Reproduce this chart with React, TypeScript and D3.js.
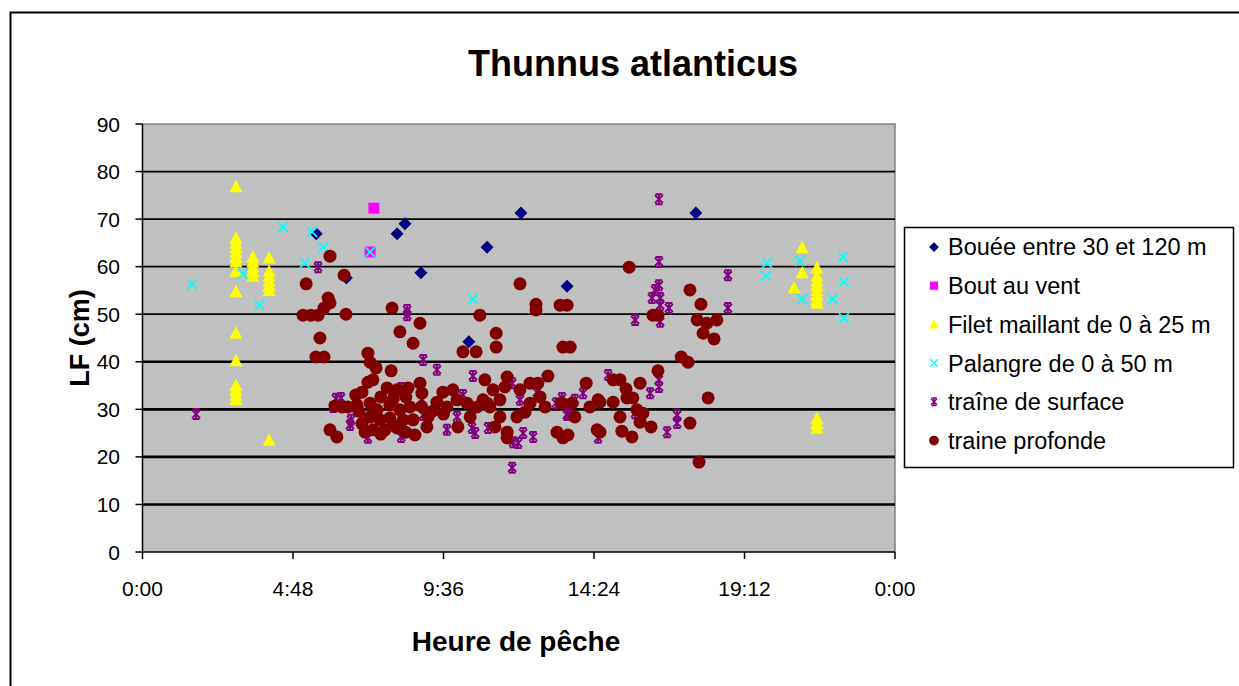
import React, { useEffect, useRef } from 'react';
import * as d3 from 'd3';

// [heure (h décimales), LF (cm)]
const bouee: [number, number][] = [
  [5.54, 66.9], [6.5, 57.6], [8.12, 66.9], [8.37, 69.0], [8.88, 58.7],
  [10.41, 44.2], [10.99, 64.1], [12.07, 71.3], [13.54, 55.9], [17.65, 71.3],
];

const boutAuVent: [number, number][] = [
  [7.38, 72.3], [7.26, 63.1],
];

const filet: [number, number][] = [
  [2.98, 76.8], [2.98, 66.0], [2.98, 65.0], [2.98, 64.0], [2.98, 63.0], [2.98, 62.0],
  [2.98, 61.0], [2.98, 59.0], [2.98, 54.7], [2.98, 46.0], [2.98, 40.2], [2.98, 35.0],
  [2.98, 34.0], [2.98, 33.0], [2.98, 32.0],
  [3.52, 62.0], [3.52, 61.0], [3.52, 60.0], [3.52, 59.0], [3.52, 58.0],
  [4.04, 61.8], [4.04, 59.0], [4.04, 58.0], [4.04, 57.0], [4.04, 56.0], [4.04, 55.0],
  [4.04, 23.5],
  [21.04, 64.0], [21.04, 58.7], [20.78, 55.5],
  [21.51, 59.7], [21.51, 58.0], [21.51, 57.0], [21.51, 56.0], [21.51, 55.0],
  [21.51, 54.0], [21.51, 53.0], [21.51, 52.3],
  [21.51, 28.0], [21.51, 27.0], [21.51, 26.0],
];

const palangre: [number, number][] = [
  [1.58, 56.3], [4.48, 68.3], [5.41, 67.3], [5.76, 64.1], [5.18, 60.8], [3.2, 58.5],
  [3.72, 51.9], [7.26, 63.1], [10.54, 53.2],
  [19.92, 60.8], [19.89, 58.0], [20.97, 61.2], [21.04, 53.2], [22.34, 62.0],
  [22.37, 56.8], [22.02, 53.2], [22.37, 49.2],
];

const traineSurface: [number, number][] = [
  [1.71, 29.0], [5.6, 59.9], [8.44, 50.9], [8.44, 49.8], [6.17, 32.2], [6.08, 30.5],
  [6.33, 32.4], [6.65, 27.8], [6.62, 26.7], [6.97, 28.2], [7.19, 24.0], [8.25, 24.2],
  [8.25, 34.5], [8.95, 40.4], [9.39, 38.3], [8.91, 32.0], [8.95, 28.8], [9.71, 25.7],
  [10.03, 28.4], [10.22, 33.0], [10.51, 26.1], [10.61, 25.0], [10.54, 37.0], [11.02, 26.1],
  [11.79, 35.5], [12.04, 32.0], [11.82, 23.1], [11.98, 22.9], [12.14, 25.0], [12.46, 24.2],
  [11.79, 17.7], [12.58, 33.6], [13.19, 31.3], [13.38, 32.4], [13.57, 29.2], [13.79, 32.0],
  [14.05, 33.4], [14.53, 24.0], [14.85, 37.2], [15.71, 29.2], [15.71, 48.8], [16.19, 33.4],
  [16.47, 36.2], [16.47, 34.7], [16.73, 25.2], [17.05, 28.8], [17.05, 27.1], [16.47, 74.2],
  [16.47, 61.0], [16.47, 56.1], [16.35, 55.1], [16.25, 53.4], [16.51, 53.4], [16.51, 51.9],
  [16.79, 51.3], [16.51, 48.4], [18.67, 58.2], [18.67, 51.3], [13.54, 28.8],
];

const traineProfonde: [number, number][] = [
  [5.98, 62.2], [5.22, 56.4], [6.43, 58.2], [5.92, 53.4], [5.12, 49.8], [5.37, 49.8],
  [5.6, 49.8], [5.79, 51.3], [5.98, 52.4], [6.49, 50.0], [5.66, 45.0], [7.96, 51.3],
  [8.85, 48.1], [8.21, 46.3], [8.63, 43.9], [5.53, 41.0], [5.79, 41.0], [7.19, 41.8],
  [7.26, 39.9], [7.45, 38.7], [7.93, 38.1], [10.76, 49.8], [10.22, 42.1], [10.64, 42.1],
  [10.92, 36.2],
  [7.19, 35.7], [7.35, 36.2], [7.0, 33.6], [7.8, 34.5], [8.12, 34.1], [8.47, 34.5],
  [8.85, 35.5], [8.91, 33.4], [6.55, 30.5], [6.84, 30.9], [7.26, 31.3], [7.48, 29.9],
  [7.89, 30.9], [8.21, 29.9], [8.53, 30.5], [7.26, 28.4], [7.58, 27.8], [7.89, 28.2],
  [8.31, 27.8], [8.63, 27.8], [7.35, 25.7], [7.73, 25.7], [8.12, 26.1], [8.69, 24.6],
  [9.07, 26.3], [9.11, 28.4], [6.14, 30.7], [6.36, 30.5], [5.98, 25.7], [6.2, 24.2],
  [7.1, 25.2], [9.58, 33.6], [9.9, 34.1], [9.39, 31.5], [9.71, 30.5], [10.03, 32.0],
  [10.35, 31.3], [10.67, 30.5], [10.99, 31.3], [10.06, 26.3], [10.45, 28.4],
  [6.8, 33.0], [7.6, 32.6], [8.0, 32.2], [8.4, 32.6], [7.0, 27.0], [8.0, 26.6],
  [8.9, 30.6], [9.25, 29.6], [7.6, 24.8], [8.4, 25.2], [6.9, 29.6], [9.6, 29.0],
  [12.55, 52.1], [12.55, 50.9], [13.32, 51.9], [13.54, 51.9], [11.28, 46.0], [11.28, 43.1],
  [13.41, 43.1], [13.64, 43.1], [16.28, 49.8], [16.44, 49.8], [15.52, 59.9], [17.46, 55.1],
  [17.81, 52.1], [17.69, 48.8], [18.0, 48.1], [18.32, 48.8], [17.88, 46.0], [18.23, 44.8],
  [17.18, 41.0], [17.4, 39.9], [16.44, 38.1], [15.01, 36.2], [15.23, 36.2], [15.87, 35.5],
  [15.42, 34.3], [15.45, 32.4], [15.64, 32.4], [14.59, 31.5], [15.01, 31.5], [18.04, 32.4],
  [15.23, 28.4], [15.96, 29.2], [15.87, 27.3], [15.29, 25.4], [15.61, 24.2], [16.22, 26.3],
  [14.59, 25.2], [17.46, 27.1], [17.75, 18.9], [12.04, 56.4],
  [11.63, 36.8], [11.18, 34.1], [10.86, 32.0], [11.08, 30.5], [11.4, 32.0], [11.56, 34.7],
  [12.04, 34.1], [12.36, 35.5], [12.61, 35.5], [12.93, 37.0], [12.68, 32.6], [12.84, 30.5],
  [12.36, 31.3], [12.2, 29.4], [11.94, 28.4], [11.4, 28.4], [11.24, 26.3], [11.63, 25.2],
  [11.63, 24.0], [13.38, 31.3], [13.7, 31.3], [13.22, 25.2], [13.57, 24.6], [13.41, 24.0],
  [13.79, 28.4], [14.15, 35.5], [14.27, 30.5], [14.53, 32.0], [14.5, 25.7], [15.77, 29.9],
];

const seriesNames = [
  'Bouée entre 30 et 120 m',
  'Bout au vent',
  'Filet maillant de 0 à 25 m',
  'Palangre de 0 à 50 m',
  'traîne de surface',
  'traine profonde',
];

const xTickValues = [0, 4.8, 9.6, 14.4, 19.2, 24];
const xTickLabels = ['0:00', '4:48', '9:36', '14:24', '19:12', '0:00'];
const yTickValues = [0, 10, 20, 30, 40, 50, 60, 70, 80, 90];

const FONT = '"Liberation Sans", Arial, sans-serif';

type Marker = 'diamond' | 'square' | 'triangle' | 'x' | 'star' | 'circle';

const drawMarker = (g: d3.Selection<SVGGElement, unknown, null, undefined>, kind: Marker) => {
  if (kind === 'diamond') {
    g.append('path').attr('d', 'M0,-6.5L6.5,0L0,6.5L-6.5,0Z').attr('fill', '#000080');
  } else if (kind === 'square') {
    g.append('rect').attr('x', -5.5).attr('y', -5.5).attr('width', 11).attr('height', 11).attr('fill', '#ff00ff');
  } else if (kind === 'triangle') {
    g.append('path').attr('d', 'M0,-7L6.5,5.5L-6.5,5.5Z').attr('fill', '#ffff00');
  } else if (kind === 'x') {
    g.append('path').attr('d', 'M-5,-5L5,5M-5,5L5,-5')
      .attr('stroke', '#00ffff').attr('stroke-width', 1.8).attr('fill', 'none');
  } else if (kind === 'star') {
    g.append('path').attr('d', 'M-4,-4L4,4M-4,4L4,-4M0,-5L0,5M-3.5,-5L3.5,-5M-3.5,5L3.5,5')
      .attr('stroke', '#800080').attr('stroke-width', 2).attr('fill', 'none');
  } else {
    g.append('circle').attr('r', 6.5).attr('fill', '#800000');
  }
};

const App: React.FC = () => {
  const svgRef = useRef<SVGSVGElement>(null);

  useEffect(() => {
    if (!svgRef.current) return;
    const width = 1239;
    const height = 686;
    const plot = { left: 142.5, right: 895, top: 124, bottom: 552 };

    const svg = d3.select(svgRef.current);
    svg.selectAll('*').remove();

    svg.append('rect').attr('width', width).attr('height', height).attr('fill', '#fff');
    svg.append('rect')
      .attr('x', 10.5).attr('y', 12.5).attr('width', 1240).attr('height', 700)
      .attr('fill', 'none').attr('stroke', '#000').attr('stroke-width', 2);

    const x = d3.scaleLinear().domain([0, 24]).range([plot.left, plot.right]);
    const y = d3.scaleLinear().domain([0, 90]).range([plot.bottom, plot.top]);

    // zone de tracé
    svg.append('rect')
      .attr('x', plot.left).attr('y', plot.top)
      .attr('width', plot.right - plot.left).attr('height', plot.bottom - plot.top)
      .attr('fill', '#c0c0c0');
    svg.append('path')
      .attr('d', `M${plot.left},${plot.top}H${plot.right}V${plot.bottom}`)
      .attr('fill', 'none').attr('stroke', '#808080').attr('stroke-width', 1.5);

    // quadrillage
    svg.append('g').selectAll('line')
      .data(yTickValues.filter(v => v > 0 && v < 90))
      .join('line')
      .attr('x1', plot.left).attr('x2', plot.right)
      .attr('y1', d => y(d)).attr('y2', d => y(d))
      .attr('stroke', '#000')
      .attr('stroke-width', d => d <= 40 ? 2.6 : 1.8);

    // axe Y
    const yAxis = svg.append('g');
    yAxis.append('line')
      .attr('x1', plot.left).attr('x2', plot.left).attr('y1', plot.top).attr('y2', plot.bottom)
      .attr('stroke', '#000').attr('stroke-width', 1.5);
    yAxis.selectAll('line.tick').data(yTickValues).join('line')
      .attr('class', 'tick')
      .attr('x1', plot.left - 7).attr('x2', plot.left)
      .attr('y1', d => y(d)).attr('y2', d => y(d))
      .attr('stroke', '#000').attr('stroke-width', 1.5);
    yAxis.selectAll('text').data(yTickValues).join('text')
      .attr('x', 120).attr('y', d => y(d)).attr('dy', '0.36em')
      .attr('text-anchor', 'end')
      .attr('font-family', FONT).attr('font-size', 21)
      .text(d => String(d));

    // axe X
    const xAxis = svg.append('g');
    xAxis.append('line')
      .attr('x1', plot.left).attr('x2', plot.right).attr('y1', plot.bottom).attr('y2', plot.bottom)
      .attr('stroke', '#000').attr('stroke-width', 1.5);
    xAxis.selectAll('line.tick').data(xTickValues).join('line')
      .attr('class', 'tick')
      .attr('x1', d => x(d)).attr('x2', d => x(d))
      .attr('y1', plot.bottom).attr('y2', plot.bottom + 7)
      .attr('stroke', '#000').attr('stroke-width', 1.5);
    xAxis.selectAll('text').data(xTickValues).join('text')
      .attr('x', d => x(d)).attr('y', 596)
      .attr('text-anchor', 'middle')
      .attr('font-family', FONT).attr('font-size', 21)
      .text((_, i) => xTickLabels[i]);

    // titres
    svg.append('text')
      .attr('x', 633).attr('y', 76).attr('text-anchor', 'middle')
      .attr('font-family', FONT).attr('font-weight', 'bold').attr('font-size', 36)
      .text('Thunnus atlanticus');
    svg.append('text')
      .attr('x', 516).attr('y', 651).attr('text-anchor', 'middle')
      .attr('font-family', FONT).attr('font-weight', 'bold').attr('font-size', 28)
      .text('Heure de pêche');
    svg.append('text')
      .attr('transform', 'translate(89,338) rotate(-90)')
      .attr('text-anchor', 'middle')
      .attr('font-family', FONT).attr('font-weight', 'bold').attr('font-size', 27)
      .text('LF (cm)');

    // points
    const series: { data: [number, number][]; marker: Marker }[] = [
      { data: bouee, marker: 'diamond' },
      { data: boutAuVent, marker: 'square' },
      { data: filet, marker: 'triangle' },
      { data: palangre, marker: 'x' },
      { data: traineSurface, marker: 'star' },
      { data: traineProfonde, marker: 'circle' },
    ];

    series.forEach(s => {
      const layer = svg.append('g');
      s.data.forEach(([h, lf]) => {
        const g = layer.append('g').attr('transform', `translate(${x(h)},${y(lf)})`);
        drawMarker(g, s.marker);
      });
    });

    // légende
    const legend = svg.append('g');
    legend.append('rect')
      .attr('x', 904.5).attr('y', 227.5).attr('width', 329).attr('height', 240)
      .attr('fill', '#fff').attr('stroke', '#000').attr('stroke-width', 1.5);
    seriesNames.forEach((name, i) => {
      const cy = 247 + i * 38.7;
      const g = legend.append('g').attr('transform', `translate(934,${cy}) scale(0.75)`);
      drawMarker(g, series[i].marker);
      legend.append('text')
        .attr('x', 948).attr('y', cy).attr('dy', '0.36em')
        .attr('font-family', FONT).attr('font-size', 23.5)
        .text(name);
    });
  }, []);

  return (
    <svg
      ref={svgRef}
      width={1239}
      height={686}
      style={{ position: 'absolute', left: 0, top: 0, display: 'block' }}
    />
  );
};

export default App;
